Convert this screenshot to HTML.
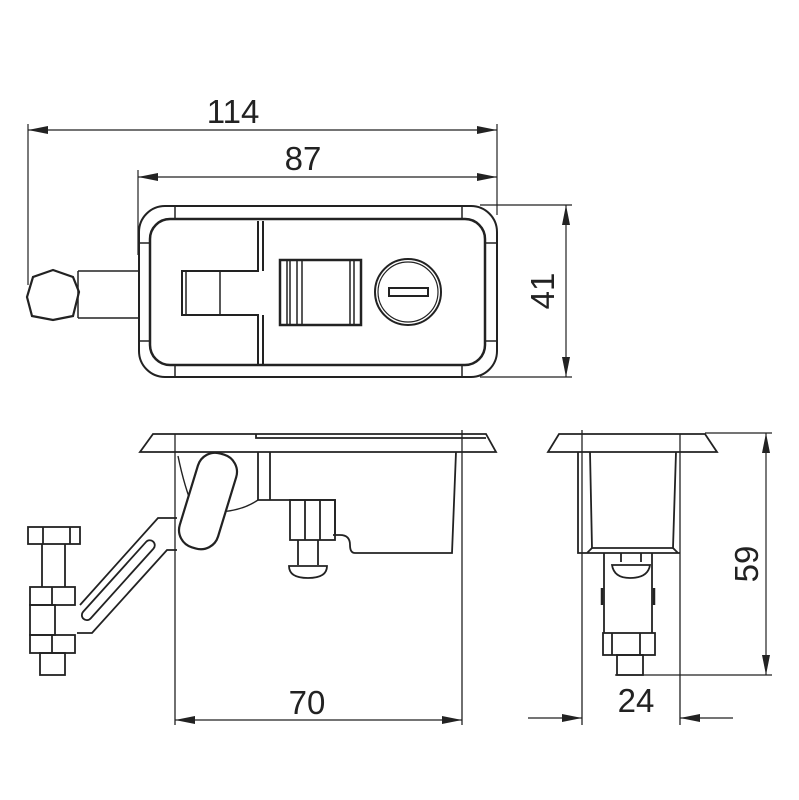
<!DOCTYPE html>
<html><head><style>body{margin:0;background:#fff}svg{display:block}</style></head><body>
<svg width="799" height="800" viewBox="0 0 799 800" xmlns="http://www.w3.org/2000/svg" font-family="Liberation Sans, sans-serif">
<defs>
<marker id="a" viewBox="0 0 20 8" refX="20" refY="4" markerWidth="20" markerHeight="8" markerUnits="userSpaceOnUse" orient="auto-start-reverse"><path d="M0,0 L20,4 L0,8 z" fill="#222"/></marker>
</defs>
<g stroke="#222" fill="none" stroke-width="1.2">
<line x1="28" y1="130" x2="497" y2="130" marker-start="url(#a)" marker-end="url(#a)"/>
<line x1="138" y1="177" x2="497" y2="177" marker-start="url(#a)" marker-end="url(#a)"/>
<line x1="28" y1="124" x2="28" y2="285"/>
<line x1="497" y1="124" x2="497" y2="215"/>
<line x1="138" y1="170" x2="138" y2="255"/>
<line x1="480" y1="205" x2="572" y2="205"/>
<line x1="480" y1="377" x2="572" y2="377"/>
<line x1="566" y1="205" x2="566" y2="377" marker-start="url(#a)" marker-end="url(#a)"/>
</g>
<g fill="#222" font-size="33" text-anchor="middle">
<text x="233" y="123">114</text>
<text x="303" y="170">87</text>
<text transform="translate(554,291) rotate(-90)">41</text>
<text x="307" y="714">70</text>
<text x="636" y="712">24</text>
<text transform="translate(758,564) rotate(-90)">59</text>
</g>
<!-- top view -->
<g stroke="#222" fill="none" stroke-width="2">
<rect x="139" y="206" width="358" height="171" rx="26"/>
<rect x="150" y="219" width="335" height="146" rx="20" stroke-width="2.5"/>
<path d="M175,206V219M462,206V219M175,365V377M462,365V377M139,243H150M139,341H150M485,243H497M485,341H497" stroke-width="1.5"/>
<path d="M78,271H139M78,318H139M78,271V318" stroke-width="1.5"/>
<polygon points="53,270 73,277 79,292 73,316 53,320 32,316 27,297 33,277" stroke-width="2.2"/>
<path d="M258,221V271H182V315H258V365M263,221V271M263,315V365" stroke-width="2"/>
<path d="M186,271V315M220,271V315" stroke-width="1.5"/>
<rect x="280" y="260" width="81" height="65" stroke-width="2.5"/>
<path d="M287,260V325M290,260V325M297,260V325M302,260V325M350,260V325M354,260V325" stroke-width="1.5"/>
<circle cx="408" cy="292" r="33"/>
<circle cx="408" cy="292" r="30" stroke-width="1.2"/>
<rect x="389" y="288" width="39" height="8"/>
</g>
<!-- front view -->
<g stroke="#222" fill="none" stroke-width="1.8">
<path d="M153,434H486L496,452H140Z"/>
<path d="M256,434V438H486"/>
<line x1="175" y1="434" x2="175" y2="725" stroke-width="1.3"/>
<line x1="462" y1="430" x2="462" y2="725" stroke-width="1.3"/>
<path d="M456,452L452,553H355Q350,553 350,545Q350,535 340,535H333"/>
<path d="M258,452V500H335V535"/>
<path d="M270,452V500"/>
<path d="M258,500Q240,512 215,512M178,456Q185,490 195,512" stroke-width="1.4"/>
<rect x="290" y="500" width="45" height="40"/>
<path d="M305,500V540M320,500V540"/>
<path d="M298,540V565M318,540V565M289,566H327Q327,578 308,578Q289,578 289,566Z"/>
<rect x="188" y="452" width="40" height="98" rx="18" transform="rotate(17 208 501)" fill="#fff" stroke-width="2.2"/>
<path d="M177,518H158L80,605M177,550H167L92,633H77"/>
<rect x="118" y="530" width="10" height="104" rx="5" transform="rotate(42 123 575)"/>
<rect x="28" y="527" width="52" height="17"/>
<path d="M43,527V544M70,527V544"/>
<path d="M42,544V587M65,544V587"/>
<rect x="30" y="587" width="45" height="18"/>
<path d="M52,587V605"/>
<rect x="30" y="605" width="25" height="30"/>
<rect x="30" y="635" width="45" height="18"/>
<path d="M52,635V653"/>
<rect x="40" y="653" width="25" height="22"/>
<line x1="175" y1="720" x2="462" y2="720" marker-start="url(#a)" marker-end="url(#a)" stroke-width="1.2"/>
</g>
<!-- side view -->
<g stroke="#222" fill="none" stroke-width="1.8">
<path d="M559,434H705L717,452H548Z"/>
<line x1="582" y1="430" x2="582" y2="725" stroke-width="1.3"/>
<line x1="680" y1="434" x2="680" y2="725" stroke-width="1.3"/>
<path d="M590,452L592,548H673L676,452"/>
<path d="M578,452V553H680M592,548L587,553M673,548L678,553"/>
<path d="M604,553V633M652,553V633"/>
<path d="M621,553V562M641,553V562M612,565H650Q648,578 630,578Q614,578 612,565Z"/>
<path d="M602,588V605M654,588V605" stroke-width="2.5"/>
<rect x="603" y="633" width="52" height="22"/>
<path d="M612,633V655M640,633V655"/>
<rect x="617" y="655" width="26" height="20"/>
<g stroke-width="1.2">
<line x1="705" y1="433" x2="772" y2="433"/>
<line x1="615" y1="675" x2="772" y2="675"/>
<line x1="766" y1="433" x2="766" y2="675" marker-start="url(#a)" marker-end="url(#a)"/>
<line x1="528" y1="718" x2="582" y2="718" marker-end="url(#a)"/>
<line x1="733" y1="718" x2="680" y2="718" marker-end="url(#a)"/>
</g>
</g>
</svg>
</body></html>
